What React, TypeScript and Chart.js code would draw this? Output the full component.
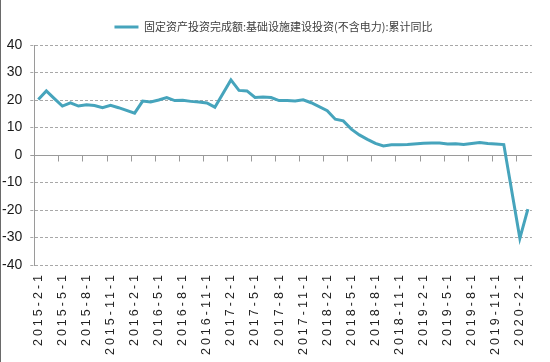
import React, { useEffect, useRef } from 'react';
import { Chart, registerables } from 'chart.js';
Chart.register(...registerables);

const seriesName = '固定资产投资完成额:基础设施建设投资(不含电力):累计同比';

const categories = [
  '2015-2-1', '2015-3-1', '2015-4-1', '2015-5-1', '2015-6-1', '2015-7-1', '2015-8-1', '2015-9-1', '2015-10-1', '2015-11-1', '2015-12-1',
  '2016-1-1', '2016-2-1', '2016-3-1', '2016-4-1', '2016-5-1', '2016-6-1', '2016-7-1', '2016-8-1', '2016-9-1', '2016-10-1', '2016-11-1', '2016-12-1',
  '2017-1-1', '2017-2-1', '2017-3-1', '2017-4-1', '2017-5-1', '2017-6-1', '2017-7-1', '2017-8-1', '2017-9-1', '2017-10-1', '2017-11-1', '2017-12-1',
  '2018-1-1', '2018-2-1', '2018-3-1', '2018-4-1', '2018-5-1', '2018-6-1', '2018-7-1', '2018-8-1', '2018-9-1', '2018-10-1', '2018-11-1', '2018-12-1',
  '2019-1-1', '2019-2-1', '2019-3-1', '2019-4-1', '2019-5-1', '2019-6-1', '2019-7-1', '2019-8-1', '2019-9-1', '2019-10-1', '2019-11-1', '2019-12-1',
  '2020-1-1', '2020-2-1', '2020-3-1',
];

// January values are not published (null → line spans the gap)
const values2015 = [20.2, 23.3, 20.5, 17.8, 19.0, 17.8, 18.3, 18.0, 17.2, 18.1, 17.2];
const values2016 = [null, 15.2, 19.6, 19.3, 20.0, 20.9, 19.8, 19.9, 19.5, 19.3, 18.9, 17.4];
const values2017 = [null, 27.3, 23.5, 23.3, 20.9, 21.1, 20.9, 19.8, 19.8, 19.6, 20.1, 19.0];
const values2018 = [null, 16.1, 13.0, 12.4, 9.4, 7.3, 5.7, 4.2, 3.3, 3.7, 3.7, 3.8];
const values2019 = [null, 4.3, 4.4, 4.4, 4.0, 4.1, 3.8, 4.2, 4.5, 4.2, 4.0, 3.8];
const values2020 = [null, -30.3, -19.7];

const seriesValues = [...values2015, ...values2016, ...values2017, ...values2018, ...values2019, ...values2020];

const yMin = -40;
const yMax = 40;
const yStep = 10;
const labelEvery = 3;

const LINE_COLOR = '#46A4BC';
const AXIS_COLOR = '#9a9a9a';
const GRID_COLOR = '#a8a8a8';

const helperPlugin = {
  id: 'helperPlugin',
  beforeLayout(chart: any) {
    const lg = chart.legend;
    if (lg && !lg.__patched) {
      const f = lg.fit;
      lg.fit = function () {
        f.call(this);
        this.height = 45;
        if (this.lineWidths && this.lineWidths.length) this.lineWidths[0] -= 12;
      };
      lg.__patched = true;
    }
  },
  beforeDraw(chart: any) {
    const xs = chart.scales.x;
    if (xs && !xs.__patched) {
      const orig = xs.drawLabels.bind(xs);
      xs.drawLabels = (area: any) => {
        const c = chart.ctx;
        c.save();
        c.letterSpacing = '3px';
        orig(area);
        c.restore();
      };
      xs.__patched = true;
    }
  },
  beforeDatasetsDraw(chart: any) {
    const { ctx, chartArea, scales } = chart;
    const x = scales.x;
    const y = scales.y;
    const y0 = Math.round(y.getPixelForValue(0)) + 0.5;
    ctx.save();
    ctx.strokeStyle = AXIS_COLOR;
    ctx.lineWidth = 1;
    ctx.setLineDash([]);
    ctx.beginPath();
    ctx.moveTo(chartArea.left - 4, y0);
    ctx.lineTo(chartArea.right, y0);
    for (let i = labelEvery; i < categories.length; i += labelEvery) {
      const px = Math.round(x.getPixelForValue(i - 0.5)) + 0.5;
      ctx.moveTo(px, y0);
      ctx.lineTo(px, y0 + 6);
    }
    ctx.stroke();
    ctx.restore();
  },
};

export default function App() {
  const canvasRef = useRef<HTMLCanvasElement | null>(null);

  useEffect(() => {
    document.body.style.margin = '0';
    const canvas = canvasRef.current;
    if (!canvas) return;
    const chart = new Chart(canvas, {
      type: 'line',
      data: {
        labels: categories,
        datasets: [
          {
            label: seriesName,
            data: seriesValues,
            borderColor: LINE_COLOR,
            backgroundColor: LINE_COLOR,
            borderWidth: 3,
            pointRadius: 0,
            pointHoverRadius: 0,
            tension: 0,
            spanGaps: true,
            fill: false,
          },
        ],
      },
      options: {
        animation: false,
        responsive: false,
        devicePixelRatio: 1,
        layout: { padding: { top: 0, right: 15, bottom: 0, left: 0 } },
        plugins: {
          legend: {
            display: true,
            position: 'top',
            labels: {
              usePointStyle: true,
              pointStyle: 'line',
              pointStyleWidth: 24,
              padding: 21.5,
              color: '#404040',
              font: { family: "'Noto Sans CJK SC', sans-serif", size: 11 },
            },
          },
          tooltip: { enabled: false },
        },
        scales: {
          x: {
            type: 'category',
            offset: true,
            grid: { display: false, drawTicks: false },
            border: { display: false },
            afterFit: (s: any) => {
              s.height = 97;
            },
            ticks: {
              autoSkip: false,
              minRotation: 90,
              maxRotation: 90,
              padding: 7,
              color: '#222',
              font: { family: "'Liberation Sans', Arial, sans-serif", size: 12.5 },
              callback: (_v: any, idx: number) => (idx % labelEvery === 0 ? categories[idx] : ''),
            },
          },
          y: {
            min: yMin,
            max: yMax,
            afterFit: (s: any) => {
              s.width = 34.3;
            },
            grid: {
              color: (c: any) => (c.tick && c.tick.value === 0 ? 'rgba(0,0,0,0)' : GRID_COLOR),
              tickColor: (c: any) => (c.tick && c.tick.value === 0 ? 'rgba(0,0,0,0)' : GRID_COLOR),
              lineWidth: 1,
              drawTicks: true,
              tickLength: 4,
              tickBorderDash: [3, 2],
            },
            border: { display: true, color: AXIS_COLOR, width: 1, dash: [3, 2] },
            ticks: {
              stepSize: yStep,
              padding: 8,
              color: '#1a1a1a',
              font: { family: "'Liberation Sans', Arial, sans-serif", size: 14 },
            },
          },
        },
      },
      plugins: [helperPlugin],
    } as any);
    return () => {
      chart.destroy();
    };
  }, []);

  return (
    <div style={{ position: 'relative', width: 550, height: 362 }}>
      <canvas ref={canvasRef} width={550} height={362} style={{ display: 'block', width: 550, height: 362 }} />
      <div style={{ position: 'absolute', left: 0, top: 0, width: 1, height: 362, background: '#6a6a6a' }} />
    </div>
  );
}
